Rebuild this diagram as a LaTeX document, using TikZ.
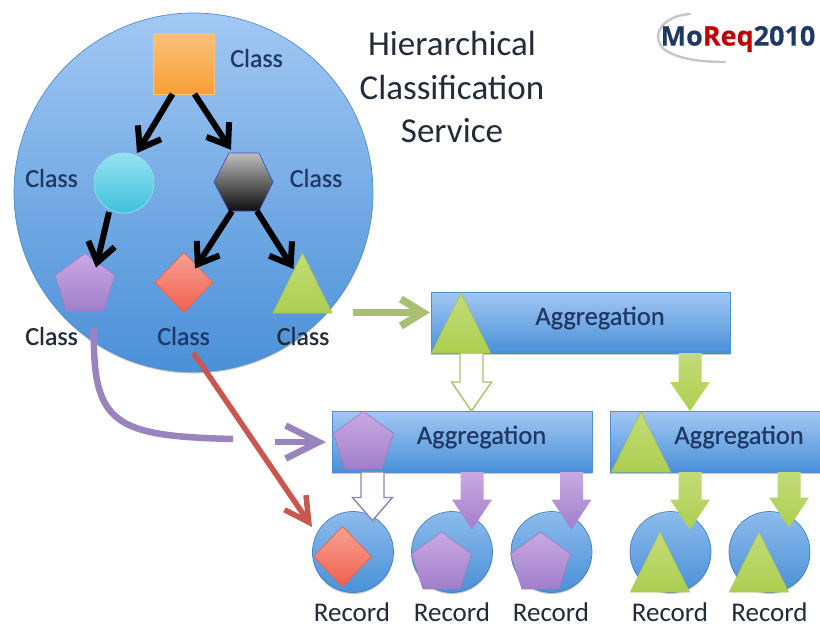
\documentclass[tikz,border=0pt]{standalone}
\usepackage{fontspec}
\setmainfont{Carlito}
\newfontfamily\semifont[FakeBold=0.6]{Carlito}
\newfontfamily\logofont[FakeBold=0.3]{Open Sans}
\usetikzlibrary{shapes.geometric,arrows.meta,calc,shadows}
\definecolor{lblblue}{HTML}{1F3864}
\definecolor{lbldark}{HTML}{222B38}
\definecolor{greenline}{HTML}{A9C070}
\definecolor{purpleline}{HTML}{9A84BE}
\definecolor{redline}{HTML}{C8584F}
\definecolor{bluetop}{HTML}{A2C8F3}
\definecolor{bluebot}{HTML}{4A90D8}
\definecolor{disctop}{HTML}{8DBBEC}
\definecolor{orange1}{HTML}{FBC07C}
\definecolor{orange2}{HTML}{F9A033}
\definecolor{cyan1}{HTML}{95E2F0}
\definecolor{cyan2}{HTML}{3FC0DC}
\definecolor{purple1}{HTML}{C8AAE2}
\definecolor{purple2}{HTML}{A27ECB}
\definecolor{red1}{HTML}{F8A293}
\definecolor{red2}{HTML}{F0604E}
\definecolor{green1}{HTML}{C3DB78}
\definecolor{green2}{HTML}{ADCF50}
\tikzset{
  x=1pt,y=-1pt,
  softshadow/.style={drop shadow={shadow xshift=0pt,shadow yshift=-1.5pt,opacity=.22,fill=black}},
  shapebase/.style={inner sep=0pt,outer sep=0pt,line width=0.7pt},
  disc/.style={shapebase,circle,minimum size=81pt,softshadow,top color=disctop,bottom color=bluebot,draw=bluebot!90!black},
  bar/.style={shapebase,rectangle,softshadow,top color=bluetop,bottom color=bluebot,draw=bluebot!90!gray},
  sq/.style={shapebase,rectangle,minimum size=61pt,top color=orange1,bottom color=orange2,draw=orange1},
  ball/.style={shapebase,circle,minimum size=60pt,top color=cyan1,bottom color=cyan2,draw=cyan1},
  penta/.style={shapebase,regular polygon,regular polygon sides=5,minimum size=63pt,top color=purple1,bottom color=purple2,draw=purple2!90!gray},
  dia/.style={shapebase,diamond,minimum width=58pt,minimum height=60pt,top color=red1,bottom color=red2,draw=red2!90!gray},
  tri/.style={shapebase,isosceles triangle,isosceles triangle stretches,shape border rotate=90,minimum width=59pt,minimum height=60pt,top color=green1,bottom color=green2,draw=green2!90!gray},
  lab/.style={inner sep=0pt,text=lblblue,font=\semifont\fontsize{26}{26}\selectfont},
  labd/.style={inner sep=0pt,text=lbldark,font=\semifont\fontsize{26}{26}\selectfont},
  agg/.style={inner sep=0pt,text=lblblue,font=\semifont\fontsize{26.4}{26.4}\selectfont},
  rec/.style={inner sep=0pt,text=lbldark,font=\fontsize{27}{27}\selectfont},
  tree/.style={line width=6pt,black,-{Straight Barb[length=19pt,width=27pt,line width=6pt]}},
  blockgreen/.style={top color=green1,bottom color=green2},
  blockpurple/.style={top color=purple1,bottom color=purple2},
  blockwhite/.style={fill=white,draw=greenline,line width=1.4pt},
  blockwhitep/.style={fill=white,draw=purpleline!70!gray,line width=1.4pt},
}
% style, x position, source anchor, target anchor, overlap of tip, head length
\newcommand{\blockarrow}[6]{%
  \coordinate (ba-s) at (#2,0 |- #3);
  \coordinate (ba-t) at ($(#2,0 |- #4)+(0,#5)$);
  \path[#1] ($(ba-s)+(-11.5,0)$) -- ($(ba-t)+(-11.5,-#6)$) -- ($(ba-t)+(-20,-#6)$) -- (ba-t)
    -- ($(ba-t)+(20,-#6)$) -- ($(ba-t)+(11.5,-#6)$) -- ($(ba-s)+(11.5,0)$) -- cycle;
}
\begin{document}
\begin{tikzpicture}
\useasboundingbox (0,0) rectangle (820,625);
\fill[white] (0,0) rectangle (820,625);

% main circle
\node[shapebase,circle,minimum size=359pt,softshadow,top color=bluetop,bottom color=bluebot,draw=bluebot!90!gray] (main) at (193.5,192.5) {};

% class shapes
\node[sq] (croot) at (183.5,63.5) {};
\node[ball] (cball) at (124,183) {};
\path[top color=gray!50,bottom color=black!95,draw=gray!60!blue,line width=0.7pt] (229,153) -- (259,153) -- (273,182) -- (259,211) -- (229,211) -- (214,182) -- cycle;
\node[inner sep=0pt,minimum width=59pt,minimum height=58pt] (chex) at (244,182) {};
\node[penta] (cpen) at (85,285) {};
\node[dia] (cdia) at (184,282.5) {};
\node[tri,anchor=south] (ctri) at (302.5,313) {};

% class labels
\node[lab] (l1) at (256.5,58) {Class};
\node[lab] (l2) at (51.5,178) {Class};
\node[lab] (l3) at (316,178) {Class};
\node[labd] (l4) at (51.5,336) {Class};
\node[lab] (l5) at (183.5,336) {Class};
\node[labd] (l6) at (303,336) {Class};

% tree arrows
\draw[tree] ($(croot.south)+(-11,0)$) -- ($(cball.north)+(13,0)$);
\draw[tree] ($(croot.south)+(11,0)$) -- ($(chex.north)+(-13,-3)$);
\draw[tree] ($(cball.south)+(-15,-1)$) -- ($(cpen.north)+(11,14)$);
\draw[tree] ($(chex.south)+(-12,0)$) -- ($(cdia.north)+(11,16)$);
\draw[tree] ($(chex.south)+(13,0)$) -- ($(ctri.north)+(-9,16)$);

% title
\node[inner sep=0pt,align=center,text=lbldark,font=\fontsize{35}{43.5}\selectfont] (title) at (452,87) {Hierarchical\\Classification\\Service};

% logo
\draw[gray!45,line width=2.4pt,line cap=round] (690,14) .. controls (660,16) and (650,38) .. (665,50) .. controls (680,60) and (705,62) .. (725,62);
\node[inner sep=0pt,font=\logofont\bfseries\fontsize{27}{27}\selectfont] (logo) at (738,39) {\textcolor{lblblue}{Mo}\textcolor{red!75!black}{Req}\textcolor{lblblue}{2010}};

% aggregations
\node[bar,minimum width=299pt,minimum height=61pt] (a1) at (580.5,322.5) {};
\node[bar,minimum width=260pt,minimum height=61pt] (a2) at (462,441.5) {};
\node[bar,minimum width=210pt,minimum height=61pt,anchor=west] (a3) at (610,441.5) {};
\node[agg] (t1) at (600,318) {Aggregation};
\node[agg] (t2) at (481.5,437) {Aggregation};
\node[agg] (t3) at (739,437) {Aggregation};

% records
\node[disc] (r1) at (353,552) {};
\node[disc] (r2) at (452,552) {};
\node[disc] (r3) at (551.5,552) {};
\node[disc] (r4) at (670.5,552) {};
\node[disc] (r5) at (769.5,552) {};

% block arrows
\blockarrow{blockwhite}{471.5}{a1.south}{a2.north}{0}{29}
\blockarrow{blockgreen}{690}{a1.south}{a3.north}{0}{29}
\blockarrow{blockwhitep}{372.5}{a2.south}{r1.north}{9}{23}
\blockarrow{blockpurple}{472}{a2.south}{r2.north}{18}{30}
\blockarrow{blockpurple}{571.5}{a2.south}{r3.north}{18}{30}
\blockarrow{blockgreen}{690}{a3.south}{r4.north}{18}{30}
\blockarrow{blockgreen}{789}{a3.south}{r5.north}{16}{30}

% shapes on aggregations and records
\node[tri,anchor=south] (at1) at (461,353) {};
\node[penta] (ap2) at (363.5,443) {};
\node[tri,anchor=south] (at3) at (641,472) {};
\node[dia] (rd1) at (342.5,556.5) {};
\node[penta] (rp2) at (441.5,563.5) {};
\node[penta] (rp3) at (540.5,563.5) {};
\node[tri,anchor=south] (rt4) at (660,592) {};
\node[tri,anchor=south] (rt5) at (759,592) {};

% record labels
\node[rec] (n1) at (352,612) {Record};
\node[rec] (n2) at (452,612) {Record};
\node[rec] (n3) at (551,612) {Record};
\node[rec] (n4) at (670,612) {Record};
\node[rec] (n5) at (769.5,612) {Record};

% feeders
\coordinate (gs) at (353,312.5);
\draw[line width=7.5pt,greenline,-{Straight Barb[length=22pt,width=27pt,line width=7.5pt]}] (gs) -- ($(a1.west |- gs)+(-1,0)$);
\coordinate (ps) at (94,328);
\coordinate (pe) at (233,439);
\draw[purpleline,line width=6.5pt] (ps) .. controls (92,425) and (115,436) .. (pe);
\coordinate (ph) at (275,442);
\draw[line width=6.5pt,purpleline,-{Straight Barb[length=33pt,width=33pt,line width=6.5pt]}] (ph) -- ($(a2.west |- ph)+(-6,0)$);
\draw[redline,line width=5.5pt,-{Straight Barb[length=24pt,width=26pt,line width=5.5pt]}] ($(main.south)+(0,-19)$) -- ($(r1.center)+(-41,-25)$);
\end{tikzpicture}
\end{document}
